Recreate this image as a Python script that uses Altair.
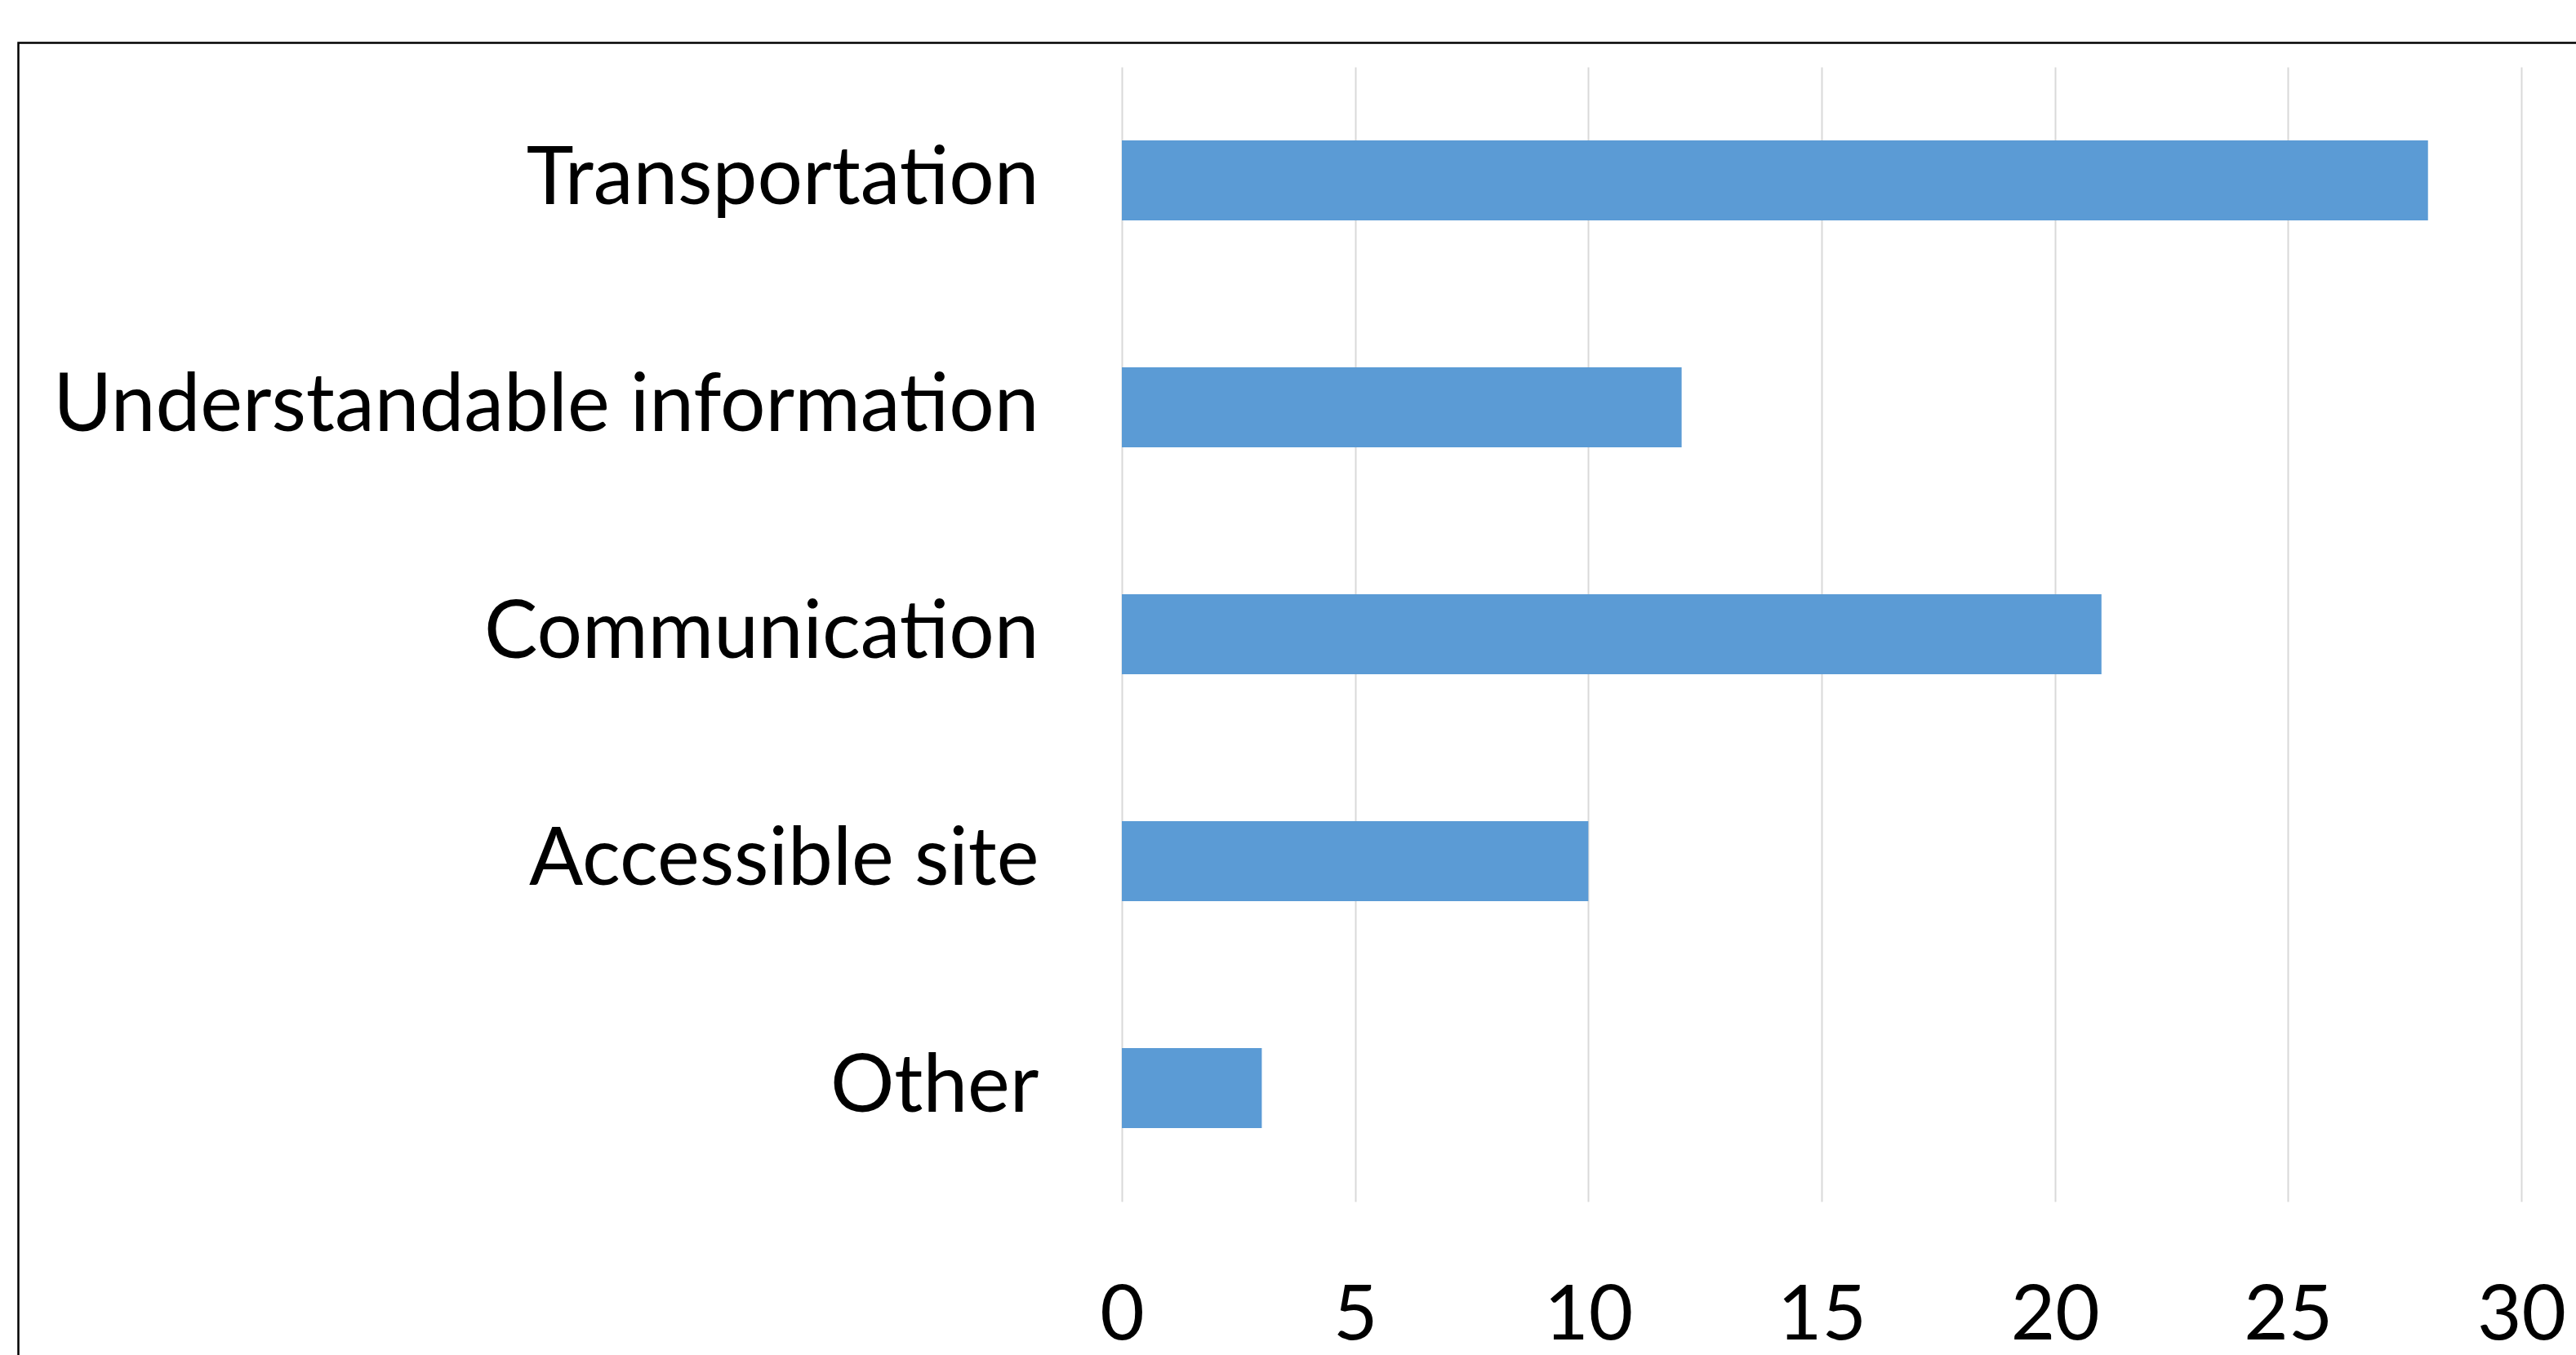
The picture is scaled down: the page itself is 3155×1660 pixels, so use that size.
import altair as alt
import pandas as pd

categories = ["Transportation", "Understandable information", "Communication", "Accessible site", "Other"]
values = [28, 12, 21, 10, 3]
x_ticks = [0, 5, 10, 15, 20, 25, 30]

df = pd.DataFrame({"category": categories, "value": values})

W, H = 1714, 1390
PAD_L, PAD_T = 1374, 82
CANVAS_W, CANVAS_H = 3155, 1660
FONT = "Lato"

bars = alt.Chart(df).mark_bar(color="#5B9BD5").encode(
    x=alt.X("value:Q",
            scale=alt.Scale(domain=[0, 30], nice=False, zero=True),
            axis=alt.Axis(values=x_ticks, title=None, domain=False, ticks=False, tickSize=0,
                          grid=True, gridColor="#D9D9D9", gridWidth=2,
                          labelFont=FONT, labelFontSize=94, labelColor="#000000",
                          labelBaseline="alphabetic", labelPadding=168, labelFlush=False)),
    y=alt.Y("category:N", sort=categories,
            scale=alt.Scale(paddingInner=0.6475, paddingOuter=0.32375),
            axis=alt.Axis(title=None, domain=False, ticks=False, tickSize=0, grid=False,
                          labelFont=FONT, labelFontSize=98, labelColor="#000000",
                          labelPadding=102, labelLimit=3000)),
)

border = alt.Chart(pd.DataFrame({"b": [0]})).mark_rect(
    fill=None, stroke="#000000", strokeWidth=2.5
).encode(
    x=alt.value(22.5 - PAD_L),
    x2=alt.value(CANVAS_W - PAD_L + 20),
    y=alt.value(52.5 - PAD_T),
    y2=alt.value(CANVAS_H - PAD_T + 20),
)

chart = alt.layer(bars, border).properties(
    width=W, height=H,
    autosize=alt.AutoSizeParams(type="none"),
    padding={"left": PAD_L, "top": PAD_T, "right": CANVAS_W - PAD_L - W, "bottom": CANVAS_H - PAD_T - H},
    background="#FFFFFF",
).configure_view(stroke=None)

chart.save("out.html", embed_options={"renderer": "svg", "actions": False})
